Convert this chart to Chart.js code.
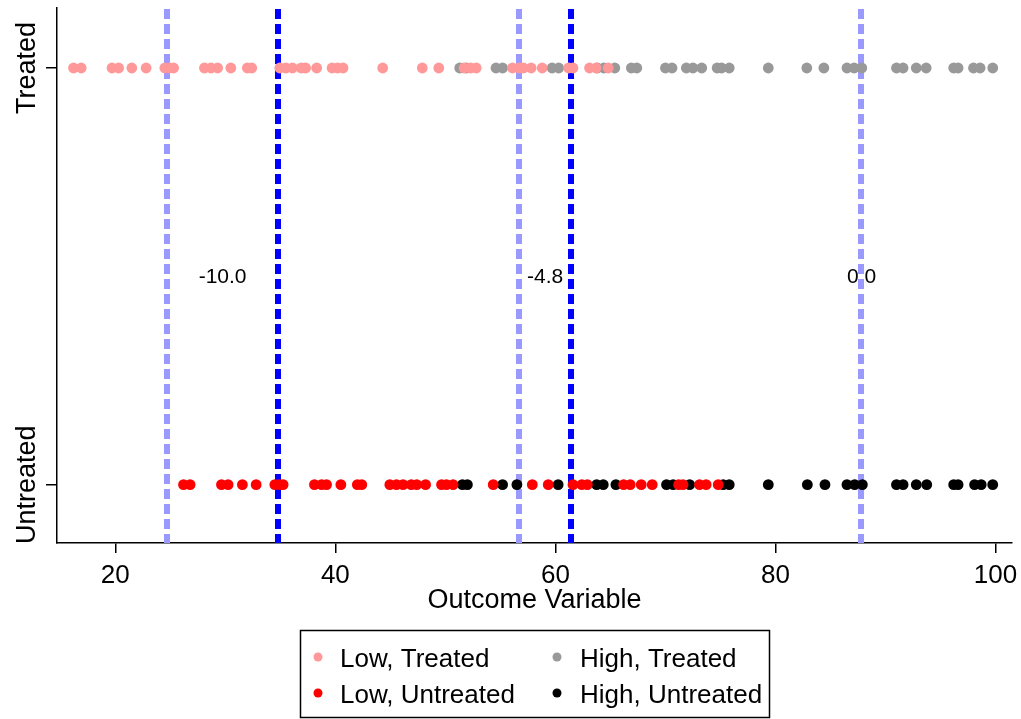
<!DOCTYPE html>
<html>
<head>
<meta charset="utf-8">
<title>Outcome Variable by group</title>
<script src="https://cdn.jsdelivr.net/npm/chart.js@4/dist/chart.umd.min.js"></script>
<style>
    html, body { margin: 0; padding: 0; background: #fff; }
    #wrap { width: 1021px; height: 719px; }
</style>
</head>
<body>
<div id="wrap"><canvas id="chart" width="1021" height="719"></canvas></div>
<script>
// --------------------
// Data
// --------------------
const lowTreated = [16.2, 16.9, 19.7, 20.3, 21.5, 22.8, 24.5, 24.95, 25.3, 28.1, 28.7, 29.3,
    30.5, 32.0, 32.4, 34.95, 35.5, 36.1, 36.9, 37.3, 38.3, 39.7, 40.2, 40.7, 44.3, 47.9,
    49.4, 51.7, 52.3, 52.8, 56.1, 56.7, 57.1, 57.8, 58.8, 61.2, 61.6, 63.1, 63.7, 64.8];
const highTreated = [51.3, 51.9, 54.6, 55.2, 59.7, 60.3, 63.8, 64.4, 65.4, 66.9, 67.4, 70.0,
    70.6, 71.9, 72.5, 73.3, 74.7, 75.1, 75.8, 79.35, 82.85, 84.4, 86.5, 87.15, 87.85, 91.0,
    91.6, 92.8, 93.7, 96.2, 96.6, 98.0, 98.6, 99.75];
const lowUntreated = [26.2, 26.8, 29.65, 30.25, 31.55, 32.8, 34.5, 34.95, 35.25, 38.1, 38.75,
    39.2, 40.5, 42.0, 42.4, 44.95, 45.55, 46.15, 46.9, 47.4, 48.2, 49.65, 50.1, 50.7, 54.35,
    57.9, 59.35, 61.6, 62.4, 62.9, 66.2, 66.8, 67.8, 68.8, 71.2, 71.6, 73.1, 73.7, 74.8];
const highUntreated = [51.55, 52.0, 55.2, 56.5, 60.25, 63.75, 64.35, 65.5, 70.1, 70.7, 72.2,
    75.25, 75.8, 79.35, 82.9, 84.5, 86.5, 87.2, 87.9, 91.0, 91.6, 92.8, 93.75, 96.2, 96.6,
    98.1, 98.7, 99.75];

const seriesLabels = ['Low, Treated', 'High, Treated', 'Low, Untreated', 'High, Untreated'];
const groupLabels = ['Untreated', 'Treated'];   // y = 0, y = 1
const xTicks = [20, 40, 60, 80, 100];

// group means (dashed lines) and differences
const treatedMeans = [24.73, 56.68, 87.82];
const untreatedMeans = [34.77, 61.45, 87.82];
const diffLabels = ['-10.0', '-4.8', '0.0'];

const FONT = '"Liberation Sans", Arial, Helvetica, sans-serif';

// --------------------
// Drawing helpers
// --------------------
const overlayPlugin = {
    id: 'overlay',
    beforeDatasetsDraw(chart) {
        const ctx = chart.ctx;
        const xs = chart.scales.x;
        const ys = chart.scales.y;
        const area = chart.chartArea;

        ctx.save();
        // difference labels, halfway between the two means
        ctx.font = '21px ' + FONT;
        ctx.fillStyle = '#000';
        ctx.textAlign = 'center';
        ctx.textBaseline = 'middle';
        diffLabels.forEach((t, i) => {
            const mid = (treatedMeans[i] + untreatedMeans[i]) / 2;
            ctx.fillText(t, xs.getPixelForValue(mid), ys.getPixelForValue(0.5) + 1);
        });

        // dashed mean lines
        ctx.lineWidth = 6;
        ctx.setLineDash([10, 5]);
        const vline = (v, color) => {
            const px = Math.round(xs.getPixelForValue(v));
            ctx.strokeStyle = color;
            ctx.beginPath();
            ctx.moveTo(px, area.top + 1);
            ctx.lineTo(px, area.bottom);
            ctx.stroke();
        };
        untreatedMeans.forEach(v => vline(v, '#0000ff'));
        treatedMeans.forEach(v => vline(v, '#9999ff'));
        ctx.restore();
    },
    afterDraw(chart) {
        const ctx = chart.ctx;
        const ys = chart.scales.y;

        // rotated y labels
        ctx.save();
        ctx.font = '27px ' + FONT;
        ctx.fillStyle = '#000';
        ctx.textAlign = 'center';
        ctx.textBaseline = 'alphabetic';
        groupLabels.forEach((t, i) => {
            ctx.save();
            ctx.translate(35, ys.getPixelForValue(i));
            ctx.rotate(-Math.PI / 2);
            ctx.fillText(t, 0, 0);
            ctx.restore();
        });
        ctx.restore();

        // legend box
        ctx.save();
        ctx.strokeStyle = '#000';
        ctx.lineWidth = 1.5;
        ctx.strokeRect(300.5, 630.5, 469, 87);
        const markerX = [318, 557];
        const textX = [340, 580];
        const rowY = [657, 693];
        ctx.font = '26px ' + FONT;
        ctx.textAlign = 'left';
        ctx.textBaseline = 'alphabetic';
        chart.data.datasets.forEach((ds, i) => {
            const col = i % 2;
            const row = Math.floor(i / 2);
            ctx.fillStyle = ds.backgroundColor;
            ctx.beginPath();
            ctx.arc(markerX[col], rowY[row], 4.5, 0, Math.PI * 2);
            ctx.fill();
            ctx.fillStyle = '#000';
            ctx.fillText(ds.label, textX[col], rowY[row] + 10);
        });
        ctx.restore();
    }
};

function makeSeries(values, yVal, label, color, order) {
    return {
        label: label,
        data: values.map(v => ({ x: v, y: yVal })),
        backgroundColor: color,
        borderWidth: 0,
        pointRadius: 5.4,
        order: order
    };
}

// --------------------
// Chart instance
// --------------------
const ctx = document.getElementById('chart').getContext('2d');

new Chart(ctx, {
    type: 'scatter',
    data: {
        datasets: [
            makeSeries(lowTreated, 1, seriesLabels[0], 'rgb(255,153,153)', 1),
            makeSeries(highTreated, 1, seriesLabels[1], 'rgb(153,153,153)', 2),
            makeSeries(lowUntreated, 0, seriesLabels[2], 'rgb(255,0,0)', 1),
            makeSeries(highUntreated, 0, seriesLabels[3], 'rgb(0,0,0)', 2)
        ]
    },
    options: {
        responsive: false,
        animation: false,
        devicePixelRatio: 1,
        events: [],
        layout: { padding: { left: 0, top: 8, right: 9, bottom: 100 } },
        plugins: {
            legend: { display: false },
            tooltip: { enabled: false }
        },
        scales: {
            x: {
                type: 'linear',
                position: 'bottom',
                min: 14.7,
                max: 101.5,
                afterBuildTicks: s => { s.ticks = xTicks.map(v => ({ value: v })); },
                afterFit: s => { s.height = 76; s.paddingLeft = 0; s.paddingRight = 0; },
                ticks: {
                    color: '#000',
                    font: { size: 26, family: FONT },
                    padding: 7,
                    maxRotation: 0,
                    autoSkip: false
                },
                grid: { drawOnChartArea: false, tickLength: 10, color: '#000', lineWidth: 1.5 },
                border: { display: true, color: '#000', width: 1.5 },
                title: {
                    display: true,
                    text: 'Outcome Variable',
                    color: '#000',
                    font: { size: 27, family: FONT },
                    padding: { top: 0, bottom: 2 }
                }
            },
            y: {
                type: 'linear',
                min: -0.14,
                max: 1.144,
                afterBuildTicks: s => { s.ticks = [{ value: 0 }, { value: 1 }]; },
                afterFit: s => { s.width = 57; s.paddingTop = 0; s.paddingBottom = 0; },
                ticks: { display: false },
                grid: { drawOnChartArea: false, tickLength: 11, color: '#000', lineWidth: 1.5 },
                border: { display: true, color: '#000', width: 1.5 }
            }
        }
    },
    plugins: [overlayPlugin]
});
</script>
</body>
</html>
